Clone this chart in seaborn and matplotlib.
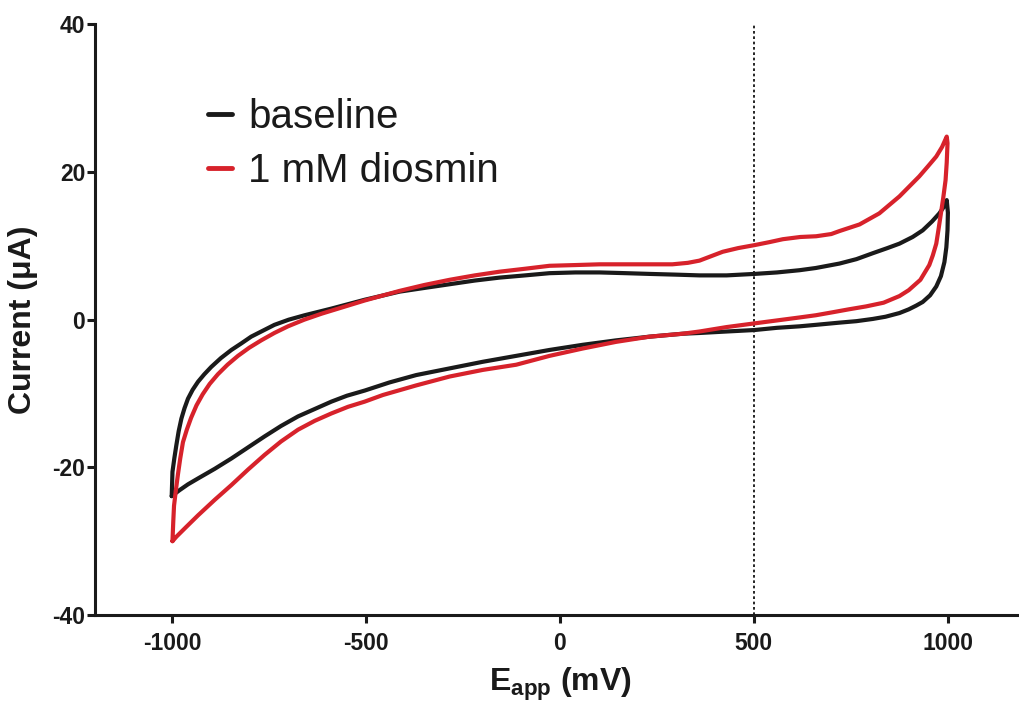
import numpy as np
import pandas as pd
import matplotlib
matplotlib.use("Agg")
import matplotlib.pyplot as plt
import seaborn as sns
from matplotlib.lines import Line2D

sns.set_theme(style="ticks")
plt.rcParams['font.family'] = ['Liberation Sans', 'DejaVu Sans']
plt.rcParams['mathtext.fontset'] = 'custom'
plt.rcParams['mathtext.bf'] = 'Liberation Sans:bold'
plt.rcParams['mathtext.rm'] = 'Liberation Sans'

# ---- data ----
baseline_x = [-1002, -1000, -995, -990, -984, -977, -969, -960, -948, -934, -918, -900, -875, -848,
              -822, -797, -767, -737, -700, -659, -590, -504, -414, -350, -285, -220, -156, -90,
              -27, 40, 102, 170, 231, 300, 360, 430, 502, 560, 618, 660, 721, 765, 807, 845,
              876, 910, 936, 960, 979, 992, 998,
              1001, 1000, 997, 992, 983, 971, 955, 936, 919, 900, 876, 840, 807, 765, 721,
              660, 618, 560, 502, 430, 360, 317, 231, 145, 59, -27, -113, -199, -285, -371,
              -440, -504, -550, -590, -633, -676, -720, -762, -805, -848, -891, -934, -960,
              -982, -1002]
baseline_y = [-23.9, -20.6, -18.7, -17.0, -15.1, -13.4, -12.0, -10.7, -9.5, -8.4, -7.4, -6.4, -5.2, -4.1,
              -3.2, -2.3, -1.5, -0.7, 0.0, 0.6, 1.5, 2.7, 3.8, 4.3, 4.8, 5.3, 5.7, 6.0,
              6.3, 6.4, 6.4, 6.3, 6.2, 6.1, 6.0, 6.0, 6.2, 6.4, 6.7, 7.0, 7.6, 8.2, 9.0, 9.7,
              10.3, 11.2, 12.1, 13.3, 14.4, 15.4, 16.2,
              14.5, 12.1, 9.8, 7.8, 5.9, 4.5, 3.3, 2.4, 1.9, 1.4, 0.9, 0.4, 0.1, -0.2, -0.4,
              -0.7, -0.9, -1.1, -1.4, -1.6, -1.8, -1.9, -2.3, -2.8, -3.4, -4.1, -4.9, -5.7, -6.6, -7.5,
              -8.5, -9.6, -10.3, -11.1, -12.1, -13.1, -14.4, -15.8, -17.3, -18.8, -20.2, -21.5, -22.3,
              -23.1, -23.9]

diosmin_x = [-1000, -998, -996, -991, -986, -980, -973, -963, -952, -938, -922, -904, -883, -858,
             -831, -802, -771, -737, -702, -660, -616, -560, -504, -414, -350, -285, -220, -156,
             -90, -27, 40, 102, 170, 231, 290, 330, 360, 390, 420, 460, 502, 540, 575, 620,
             661, 700, 721, 773, 824, 876, 927, 950, 971, 986, 998,
             1000, 998, 995, 989, 983, 977, 971, 962, 953, 930, 900, 876, 835, 790, 745, 703,
             660, 618, 560, 502, 430, 360, 317, 231, 145, 59, -27, -113, -199, -285, -371,
             -457, -504, -547, -590, -633, -676, -720, -762, -805, -848, -891, -934, -967,
             -990, -1000]
diosmin_y = [-30.0, -27.4, -25.2, -23.0, -21.0, -18.8, -16.6, -14.9, -13.3, -11.6, -10.1, -8.7, -7.4, -6.1,
             -4.9, -3.8, -2.8, -1.8, -0.9, 0.0, 0.8, 1.7, 2.6, 3.9, 4.7, 5.4, 6.0, 6.5,
             6.9, 7.3, 7.4, 7.5, 7.5, 7.5, 7.5, 7.7, 8.0, 8.6, 9.2, 9.7, 10.1, 10.5, 10.9, 11.2,
             11.3, 11.6, 12.0, 12.9, 14.4, 16.7, 19.4, 20.8, 22.1, 23.4, 24.8,
             23.9, 21.3, 18.9, 16.5, 14.4, 12.3, 10.3, 8.7, 7.4, 5.4, 4.0, 3.2, 2.3, 1.8, 1.4, 1.0,
             0.6, 0.3, -0.1, -0.5, -1.0, -1.6, -1.9, -2.3, -3.0, -3.9, -4.9, -6.1, -6.8, -7.7, -8.9,
             -10.2, -11.1, -11.8, -12.7, -13.7, -14.9, -16.5, -18.3, -20.3, -22.4, -24.4, -26.5, -28.2,
             -29.4, -30.0]

labels = ["baseline", "1 mM diosmin"]
colors = ["#1a1a1a", "#d7222b"]
x_ticks = [-1000, -500, 0, 500, 1000]
y_ticks = [-40, -20, 0, 20, 40]
marker_potential = 500

# ---- figure ----
fig = plt.figure(figsize=(10.19, 7.04), dpi=100)
ax = fig.add_axes([0.0932, 0.1264, 0.9127, 0.839])

df_b = pd.DataFrame({"E": baseline_x, "I": baseline_y})
df_d = pd.DataFrame({"E": diosmin_x, "I": diosmin_y})
sns.lineplot(data=df_b, x="E", y="I", sort=False, estimator=None, color=colors[0],
             linewidth=3.0, ax=ax, solid_joinstyle='round', solid_capstyle='round')
sns.lineplot(data=df_d, x="E", y="I", sort=False, estimator=None, color=colors[1],
             linewidth=3.0, ax=ax, solid_joinstyle='round', solid_capstyle='round')

ax.axvline(marker_potential, color="black", linewidth=1.2, linestyle=(0, (1.6, 1.6)), zorder=0)

ax.set_xlim(-1200, 1200)
ax.set_ylim(-40, 40)
ax.set_xticks(x_ticks)
ax.set_yticks(y_ticks)
ax.set_xticklabels([str(v) for v in x_ticks])
ax.set_yticklabels([str(v) for v in y_ticks])

for s in ["top", "right"]:
    ax.spines[s].set_visible(False)
for s in ["left", "bottom"]:
    ax.spines[s].set_linewidth(2.2)
    ax.spines[s].set_color("#1a1a1a")

ax.tick_params(axis="both", direction="out", length=6, width=2.2, color="#1a1a1a",
               labelsize=16.5, labelcolor="#1a1a1a")
ax.tick_params(axis="y", pad=1)
ax.tick_params(axis="x", pad=6)
for lab in ax.get_xticklabels() + ax.get_yticklabels():
    lab.set_fontweight("bold")

ax.set_xlabel(r"E$_{\mathbf{app}}$ (mV)", fontsize=23, fontweight="bold", color="#1a1a1a", labelpad=8)
ax.set_ylabel("Current (μA)", fontsize=23, fontweight="bold", color="#1a1a1a", labelpad=10)

handles = [Line2D([0], [0], color=c, linewidth=3.5) for c in colors]
leg = ax.legend(handles, labels, loc="upper left", bbox_to_anchor=(0.0825, 0.937),
                frameon=False, fontsize=29, handlelength=0.6, handletextpad=0.4,
                labelspacing=0.41, labelcolor="#1a1a1a")

fig.savefig("out.png", dpi=100)
